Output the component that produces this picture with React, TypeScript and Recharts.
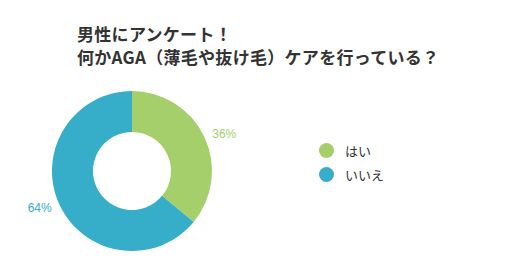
import { PieChart, Pie, Cell, Legend } from "recharts";

const answers = ["はい", "いいえ"];
const shares = [36, 64];
const colors = ["#a5cf6a", "#36adc9"];

const titleLines = ["男性にアンケート！", "何かAGA（薄毛や抜け毛）ケアを行っている？"];

const data = answers.map((name, i) => ({ name, value: shares[i] }));

const RAD = Math.PI / 180;

// labels sit a bit flatter than the slice midline, like the original
function renderLabel(props: any) {
  const { cx, cy, midAngle, value, index } = props;
  const x = cx + 102 * Math.cos(-midAngle * RAD);
  const y = cy + 88 * Math.sin(-midAngle * RAD);
  return (
    <text
      x={x}
      y={y}
      fill={colors[index]}
      fontSize={12}
      fontFamily="'Liberation Sans', Arial, sans-serif"
      textAnchor="middle"
      dominantBaseline="central"
    >
      {`${value}%`}
    </text>
  );
}

function LegendBox() {
  return (
    <div>
      {data.map((d, i) => (
        <div
          key={d.name}
          style={{ display: "flex", alignItems: "center", height: 24 }}
        >
          <span
            style={{
              display: "inline-block",
              width: 15,
              height: 15,
              borderRadius: "50%",
              background: colors[i],
              marginRight: 11,
            }}
          />
          <span style={{ fontSize: 13, color: "#333" }}>{d.name}</span>
        </div>
      ))}
    </div>
  );
}

export default function App() {
  return (
    <div
      style={{
        position: "absolute",
        left: 0,
        top: 0,
        width: 507,
        height: 277,
        background: "#fff",
        fontFamily: "'Noto Sans CJK JP', sans-serif",
      }}
    >
      <div
        style={{
          position: "absolute",
          left: 77,
          top: 22,
          fontSize: 17,
          fontWeight: 700,
          color: "#333",
          lineHeight: "23px",
          letterSpacing: "0.3px",
          whiteSpace: "nowrap",
        }}
      >
        {titleLines.map((t) => (
          <div key={t}>{t}</div>
        ))}
      </div>
      <PieChart width={507} height={277}>
        <Pie
          data={data}
          dataKey="value"
          nameKey="name"
          cx={127}
          cy={166}
          innerRadius={39}
          outerRadius={80}
          startAngle={90}
          endAngle={-270}
          stroke="none"
          label={renderLabel}
          labelLine={false}
          isAnimationActive={false}
        >
          {data.map((d, i) => (
            <Cell key={d.name} fill={colors[i]} />
          ))}
        </Pie>
        <Legend
          content={() => <LegendBox />}
          layout="vertical"
          wrapperStyle={{ position: "absolute", left: 319, top: 138, width: 120 }}
        />
      </PieChart>
    </div>
  );
}
